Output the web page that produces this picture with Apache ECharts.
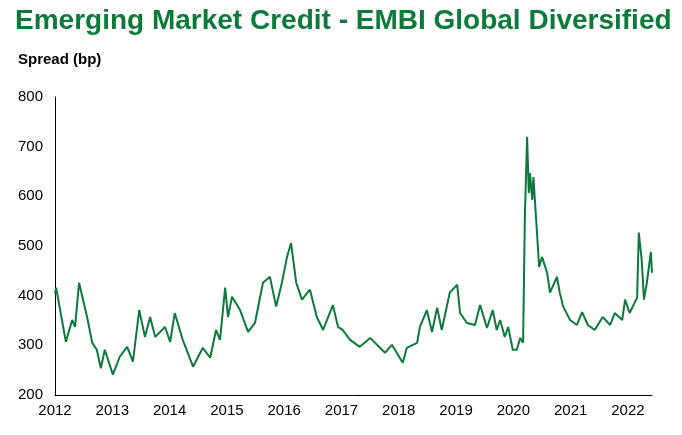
<!DOCTYPE html>
<html>
<head>
<meta charset="utf-8">
<script src="https://cdn.jsdelivr.net/npm/echarts@6/dist/echarts.min.js"></script>
<style>body{margin:0;background:#fff}#chart{width:682px;height:435px}</style>
</head>
<body>
<div id="chart"></div>
<script>
// 日期（小数年份）
var years = [2012.00,2012.02,2012.19,2012.30,2012.35,2012.42,2012.56,2012.65,2012.73,2012.80,2012.87,2013.01,2013.13,2013.26,2013.36,2013.47,2013.57,2013.66,2013.75,2013.92,2014.01,2014.09,2014.23,2014.41,2014.58,2014.71,2014.81,2014.88,2014.97,2015.02,2015.09,2015.23,2015.37,2015.49,2015.63,2015.75,2015.86,2015.96,2016.05,2016.12,2016.21,2016.31,2016.45,2016.57,2016.68,2016.85,2016.94,2017.02,2017.15,2017.32,2017.50,2017.76,2017.88,2018.07,2018.14,2018.32,2018.37,2018.49,2018.58,2018.67,2018.75,2018.89,2019.02,2019.07,2019.19,2019.33,2019.42,2019.54,2019.64,2019.71,2019.77,2019.85,2019.91,2019.99,2020.06,2020.12,2020.17,2020.20,2020.24,2020.27,2020.29,2020.33,2020.35,2020.41,2020.45,2020.50,2020.59,2020.64,2020.76,2020.81,2020.87,2020.99,2021.11,2021.20,2021.30,2021.42,2021.56,2021.69,2021.77,2021.90,2021.95,2022.03,2022.16,2022.19,2022.24,2022.28,2022.33,2022.40,2022.42]
// 利差 (bp)
var spread = [405,416,307,351,337,426,357,305,291,254,291,241,277,297,267,371,317,357,317,337,307,365,311,257,295,275,331,311,416,357,398,371,327,345,426,438,378,426,478,506,426,392,412,357,331,381,337,331,311,297,315,285,301,265,295,305,337,371,327,376,331,406,422,365,345,341,381,335,371,331,351,317,337,291,291,315,305,553,720,607,647,593,639,532,458,478,446,406,438,406,378,351,341,367,341,331,357,341,365,351,392,365,396,527,472,392,426,488,446]
var yTicks = [200,300,400,500,600,700,800]

var data = []
for (var i = 0; i < years.length; i++) data.push([years[i], spread[i]])

var chart = echarts.init(document.getElementById('chart'))
chart.setOption({
  animation: false,
  title: [{
    text: 'Emerging Market Credit - EMBI Global Diversified',
    left: 10, top: 2,
    textStyle: {color: '#0b7a3a', fontSize: 28, fontWeight: 'bold', fontFamily: 'Liberation Sans'}
  }, {
    text: 'Spread (bp)',
    left: 13, top: 47,
    textStyle: {color: '#000', fontSize: 15, fontWeight: 'bold', fontFamily: 'Liberation Sans'}
  }],
  grid: {left: 55, right: 30, top: 97, bottom: 40},
  xAxis: {
    type: 'value', min: 2012, max: 2022.42, interval: 1,
    axisLine: {show: true, lineStyle: {color: '#000'}},
    axisTick: {show: false},
    splitLine: {show: false},
    axisLabel: {
      color: '#000', fontSize: 15, fontFamily: 'Liberation Sans', margin: 8,
      formatter: function (v) { return Number.isInteger(v) ? String(v) : '' }
    }
  },
  yAxis: {
    type: 'value', min: yTicks[0], max: yTicks[yTicks.length - 1], interval: 100,
    axisLine: {show: true, lineStyle: {color: '#000'}},
    axisTick: {show: false},
    splitLine: {show: false},
    axisLabel: {color: '#000', fontSize: 15, fontFamily: 'Liberation Sans', margin: 12}
  },
  series: [{
    type: 'line', data: data, showSymbol: false,
    lineStyle: {color: '#0b7a3a', width: 2}
  }]
})
</script>
</body>
</html>
